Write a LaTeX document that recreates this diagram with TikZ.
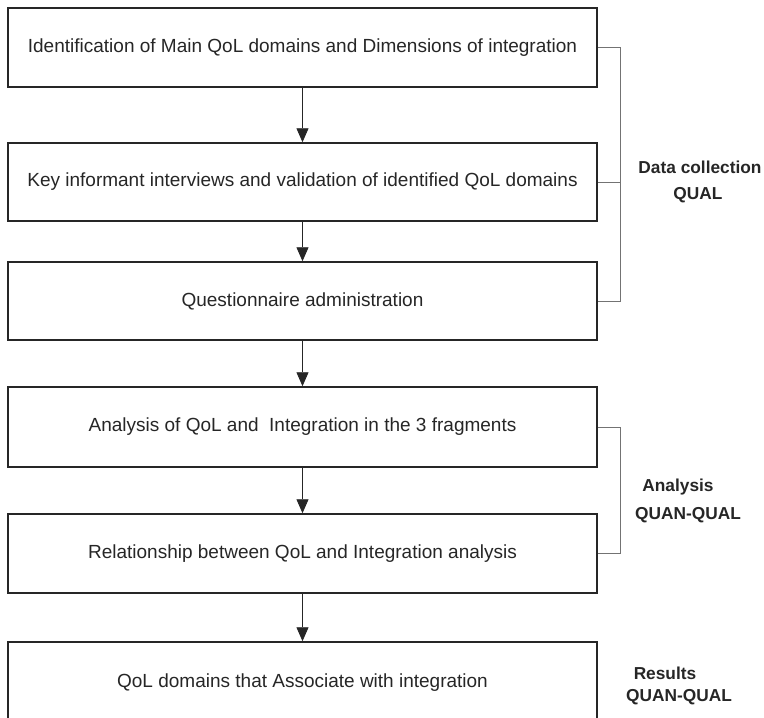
\documentclass[tikz,border=0pt]{standalone}
\usepackage{fontspec}
\setmainfont{Liberation Sans}
\usetikzlibrary{arrows.meta}
\begin{document}
\begin{tikzpicture}[x=1pt,y=-1pt,
  stepbox/.style={draw=black!85,line width=1.5pt,minimum width=589pt,minimum height=79pt,inner sep=0pt,
    font=\fontsize{19}{22}\selectfont,text=black!85},
  flow/.style={draw=black!85,line width=0.9pt,-{Triangle[width=12pt,length=14pt]}},
  bracket/.style={draw=black!55,line width=1pt},
  phase/.style={font=\fontsize{17.3}{20}\bfseries\selectfont,text=black!85,inner sep=0pt}]
\path[use as bounding box,clip] (0,0) rectangle (764,718);
\node[stepbox] (b1) at (302.5,47.5) {Identification of Main QoL domains and Dimensions of integration};
\node[stepbox,minimum height=78pt] (b2) at (302.5,182) {Key informant interviews and validation of identified QoL domains};
\node[stepbox,minimum height=78pt] (b3) at (302.5,301) {Questionnaire administration};
\node[stepbox,minimum height=80pt] (b4) at (302.5,427) {Analysis of QoL and \ Integration in the 3 fragments};
\node[stepbox] (b5) at (302.5,553.5) {Relationship between QoL and Integration analysis};
\node[stepbox,minimum height=82pt] (b6) at (302.5,683) {QoL domains that Associate with integration};
\draw[flow] (b1) -- (b2);
\draw[flow] (b2) -- (b3);
\draw[flow] (b3) -- (b4);
\draw[flow] (b4) -- (b5);
\draw[flow] (b5) -- (b6);
\draw[bracket] (b1.east) -- ++(23,0) coordinate (t1) |- (b3.east);
\draw[bracket] (b2.east) -- (b2.east -| t1);
\draw[bracket] (b4.east) -- ++(23,0) |- (b5.east);
\node[phase] (l1) at (700,167) {Data collection};
\node[phase] (l2) at (698,195) {QUAL};
\node[phase] (l3) at (678,487) {Analysis};
\node[phase] (l4) at (688,515) {QUAN-QUAL};
\node[phase] (l5) at (665,673) {Results};
\node[phase] (l6) at (679,697) {QUAN-QUAL};
\end{tikzpicture}
\end{document}
